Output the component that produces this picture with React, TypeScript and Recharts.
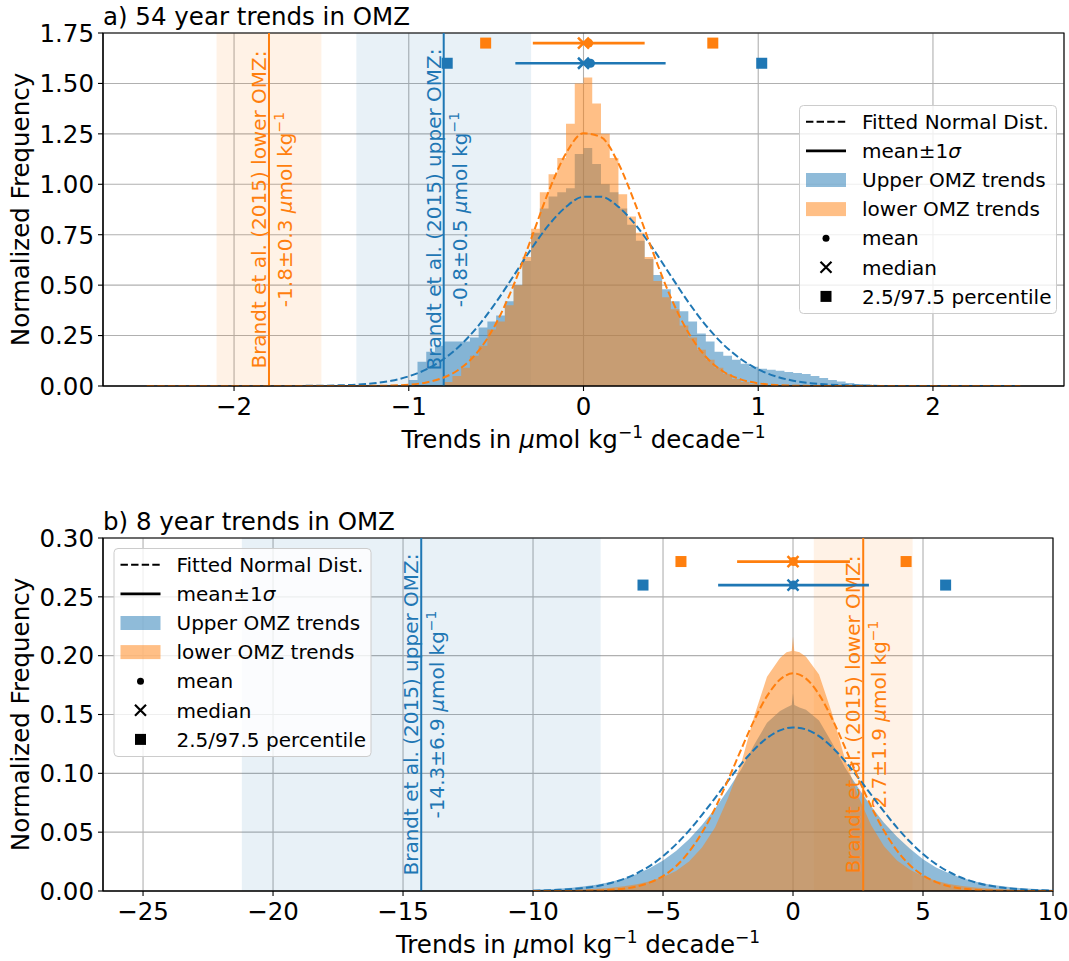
import React from 'react';
import {
  ComposedChart,
  XAxis,
  YAxis,
  CartesianGrid,
  Area,
  Line,
  Scatter,
  ReferenceLine,
  ReferenceArea,
} from 'recharts';

const BLUE = '#1f77b4';
const ORANGE = '#ff7f0e';
const GRID = '#b0b0b0';
const FONT = "'DejaVu Sans', 'Liberation Sans', sans-serif";
const BASE = 24.5;
const SMALL = 20;
const DASH = '7.4 3.2';

// ---------------- panel a: 54 year trends ----------------
const A_X_DOMAIN = [-2.75, 2.75];
const A_Y_DOMAIN = [0, 1.75];
const A_X_TICKS = [-2, -1, 0, 1, 2];
const A_Y_TICKS = [0, 0.25, 0.5, 0.75, 1, 1.25, 1.5, 1.75];

const A_BIN_WIDTH = 0.05;
const A_UPPER_START = -1.05;
const A_UPPER_HIST = [
  0.0, 0.03, 0.12, 0.17, 0.2, 0.22, 0.22, 0.22, 0.24, 0.29, 0.32, 0.35, 0.42, 0.5,
  0.62, 0.76, 0.88, 0.94, 0.96, 0.98, 1.15, 1.18, 1.1, 1.0, 0.96, 0.88, 0.8, 0.72,
  0.63, 0.55, 0.48, 0.42, 0.37, 0.32, 0.26, 0.22, 0.17, 0.15, 0.13, 0.11, 0.095,
  0.085, 0.08, 0.075, 0.07, 0.065, 0.06, 0.05, 0.04, 0.03, 0.022, 0.015, 0.01,
  0.007, 0.004, 0.002, 0.0,
];
const A_LOWER_START = -0.85;
const A_LOWER_HIST = [
  0.0, 0.02, 0.05, 0.09, 0.15, 0.2, 0.28, 0.32, 0.4, 0.5, 0.64, 0.78, 0.96, 1.05,
  1.13, 1.3, 1.5, 1.53, 1.4, 1.25, 1.13, 0.95, 0.84, 0.76, 0.64, 0.52, 0.44, 0.38,
  0.3, 0.24, 0.18, 0.13, 0.09, 0.06, 0.035, 0.02, 0.01, 0.005, 0.0,
];

const A_FIT_X = [
  -2.5, -1.7, -1.6, -1.5, -1.4, -1.3, -1.2, -1.1, -1.0, -0.9, -0.8, -0.7, -0.6, -0.5,
  -0.4, -0.3, -0.2, -0.1, 0.0, 0.1, 0.2, 0.3, 0.4, 0.5, 0.6, 0.7, 0.8, 0.9, 1.0, 1.1,
  1.2, 1.3, 1.4, 1.5, 1.6, 1.7, 1.8, 2.5,
];
const A_FIT_UPPER = [
  0, 0.0003, 0.0006, 0.0014, 0.0032, 0.0068, 0.0138, 0.026, 0.048, 0.082, 0.134,
  0.206, 0.301, 0.416, 0.546, 0.678, 0.797, 0.888, 0.938, 0.938, 0.888, 0.797, 0.678,
  0.546, 0.416, 0.301, 0.206, 0.134, 0.082, 0.048, 0.026, 0.0138, 0.0068, 0.0032,
  0.0014, 0.0006, 0.0003, 0,
];
const A_FIT_LOWER = [
  0, 0, 0, 0, 0.0001, 0.0002, 0.0007, 0.0023, 0.0067, 0.0176, 0.042, 0.09, 0.175,
  0.311, 0.5, 0.729, 0.963, 1.153, 1.253, 1.234, 1.103, 0.894, 0.657, 0.438, 0.265,
  0.145, 0.072, 0.0327, 0.0134, 0.0049, 0.0016, 0.0005, 0.0001, 0, 0, 0, 0, 0,
];

// [upper, lower]
const A_MEAN = [0.04, 0.03];
const A_SD = [0.43, 0.32];
const A_MEDIAN = [0.0, 0.0];
const A_PCT_UPPER = [-0.78, 1.02];
const A_PCT_LOWER = [-0.56, 0.74];
const A_ROW_Y = [1.6, 1.7];
const A_BRANDT_UPPER = [-0.8, 0.5];
const A_BRANDT_LOWER = [-1.8, 0.3];

// ---------------- panel b: 8 year trends ----------------
const B_X_DOMAIN = [-26.54, 10];
const B_Y_DOMAIN = [0, 0.3];
const B_X_TICKS = [-25, -20, -15, -10, -5, 0, 5, 10];
const B_Y_TICKS = [0, 0.05, 0.1, 0.15, 0.2, 0.25, 0.3];

const B_HIST_X = [
  -10, -9.5, -9, -8.5, -8, -7.5, -7, -6.5, -6, -5.5, -5, -4.5, -4, -3.5, -3, -2.5, -2,
  -1.5, -1, -0.5, -0.25, -0.05, 0, 0.05, 0.25, 0.5, 1, 1.5, 2, 2.5, 3, 3.5, 4, 4.5, 5,
  5.5, 6, 6.5, 7, 7.5, 8, 8.5, 9, 9.5, 10,
];
const B_UPPER_HIST = [
  0.001, 0.0014, 0.002, 0.0028, 0.004, 0.0056, 0.0078, 0.0106, 0.0145, 0.0195, 0.026,
  0.034, 0.044, 0.056, 0.07, 0.086, 0.103, 0.124, 0.143, 0.153, 0.156, 0.158, 0.168,
  0.158, 0.156, 0.154, 0.145, 0.126, 0.105, 0.088, 0.072, 0.058, 0.046, 0.036, 0.027,
  0.02, 0.015, 0.011, 0.008, 0.0058, 0.0042, 0.003, 0.0021, 0.0015, 0.001,
];
const B_LOWER_HIST = [
  0.0003, 0.0004, 0.0006, 0.0009, 0.0013, 0.0019, 0.0028, 0.004, 0.0057, 0.0082,
  0.012, 0.017, 0.025, 0.037, 0.054, 0.079, 0.108, 0.148, 0.182, 0.198, 0.203, 0.204,
  0.216, 0.204, 0.203, 0.199, 0.184, 0.151, 0.112, 0.081, 0.056, 0.038, 0.026, 0.018,
  0.0125, 0.0087, 0.006, 0.0042, 0.003, 0.0021, 0.0015, 0.001, 0.0007, 0.0005, 0.0003,
];

const B_FIT_X = [
  -10, -9, -8, -7, -6, -5.5, -5, -4.5, -4, -3.5, -3, -2.5, -2, -1.5, -1, -0.5, 0, 0.5,
  1, 1.5, 2, 2.5, 3, 3.5, 4, 4.5, 5, 5.5, 6, 7, 8, 9, 10,
];
const B_FIT_UPPER = [
  0.0003, 0.001, 0.0027, 0.0068, 0.0151, 0.0214, 0.0296, 0.0396, 0.0513, 0.0647,
  0.079, 0.0936, 0.1077, 0.1201, 0.13, 0.1365, 0.139, 0.1373, 0.1316, 0.1223, 0.1104,
  0.0966, 0.082, 0.0675, 0.0539, 0.0418, 0.0314, 0.0229, 0.0162, 0.0074, 0.003,
  0.0011, 0.0003,
];
const B_FIT_LOWER = [
  0, 0, 0.0002, 0.001, 0.0039, 0.0073, 0.0127, 0.0211, 0.0333, 0.0496, 0.0702, 0.0943,
  0.12, 0.1448, 0.1656, 0.1797, 0.185, 0.1805, 0.167, 0.1466, 0.122, 0.0963, 0.0721,
  0.0511, 0.0344, 0.0219, 0.0133, 0.0076, 0.0041, 0.001, 0.0002, 0, 0,
];

const B_MEAN = [0.02, 0.02];
const B_SD = [2.9, 2.17];
const B_MEDIAN = [0.0, 0.0];
const B_PCT_UPPER = [-5.77, 5.87];
const B_PCT_LOWER = [-4.31, 4.35];
const B_ROW_Y = [0.26, 0.28];
const B_BRANDT_UPPER = [-14.3, 6.9];
const B_BRANDT_LOWER = [2.7, 1.9];

// ---------------- layout ----------------
const PAGE_W = 1069;
const PAGE_H = 961;
const PLOT_LEFT = 103;
const A_FRAME = { top: 33, bottom: 386, right: 1064, chartTop: 0, chartH: 460 };
const B_FRAME = { top: 538, bottom: 891, right: 1053, chartTop: 490, chartH: 471 };

const LEGEND_A = { left: 799, top: 105 };
const LEGEND_B = { left: 113.5, top: 548 };

// ---------------- helpers ----------------
const binSteps = (start: number, width: number, values: number[]) =>
  values.map((y, i) => ({ x: Math.round((start + i * width) * 1000) / 1000, y }));
const pairUp = (xs: number[], ys: number[]) => xs.map((x, i) => ({ x, y: ys[i] }));
const fmtTick = (v: number, digits: number) => {
  const s = Math.abs(v).toFixed(digits);
  return v < 0 ? '\u2212' + s : s;
};

const squareShape = (color: string) => (p: any) =>
  <rect x={p.cx - 5.5} y={p.cy - 5.5} width={11} height={11} fill={color} />;
const crossShape = (color: string) => (p: any) => (
  <path
    d={`M${p.cx - 5.5},${p.cy - 5.5}L${p.cx + 5.5},${p.cy + 5.5}M${p.cx - 5.5},${p.cy + 5.5}L${p.cx + 5.5},${p.cy - 5.5}`}
    stroke={color}
    strokeWidth={2.5}
    fill="none"
  />
);
const dotShape = (color: string) => (p: any) => <circle cx={p.cx} cy={p.cy} r={4.5} fill={color} />;

function XTick(p: any) {
  return (
    <text x={p.x} y={p.y} dy={BASE * 0.73} textAnchor="middle" fontSize={BASE} fontFamily={FONT} fill="#000">
      {fmtTick(p.payload.value, 0)}
    </text>
  );
}

function makeYTick(digits: number) {
  return (p: any) => (
    <text x={p.x} y={p.y} dy={BASE * 0.36} textAnchor="end" fontSize={BASE} fontFamily={FONT} fill="#000">
      {fmtTick(p.payload.value, digits)}
    </text>
  );
}

function brandtNote(which: string, ref: number[], color: string) {
  return (props: any) => {
    const vb = props.viewBox || {};
    const x = vb.x;
    const cy = vb.y + vb.height / 2;
    if (x == null || isNaN(cy)) return null;
    const x1 = x - 3;
    const x2 = x + 23;
    return (
      <g fontFamily={FONT} fontSize={SMALL} fill={color}>
        <text x={x1} y={cy} transform={`rotate(-90 ${x1} ${cy})`} textAnchor="middle">
          {`Brandt et al. (2015) ${which} OMZ:`}
        </text>
        <text x={x2} y={cy} transform={`rotate(-90 ${x2} ${cy})`} textAnchor="middle">
          {`${ref[0].toFixed(1)}\u00b1${ref[1].toFixed(1)} `}
          <tspan fontStyle="italic">μ</tspan>
          {'mol kg'}
          <tspan dy={-8} fontSize={14}>{'\u22121'}</tspan>
        </text>
      </g>
    );
  };
}

type PanelProps = {
  frame: typeof A_FRAME;
  xDomain: number[];
  yDomain: number[];
  xTicks: number[];
  yTicks: number[];
  yDigits: number;
  upperHist: { x: number; y: number }[];
  lowerHist: { x: number; y: number }[];
  histCurve: 'stepAfter' | 'linear';
  fitUpper: { x: number; y: number }[];
  fitLower: { x: number; y: number }[];
  mean: number[];
  sd: number[];
  median: number[];
  pctUpper: number[];
  pctLower: number[];
  rowY: number[];
  brandtUpper: number[];
  brandtLower: number[];
};

function Panel(p: PanelProps) {
  const { frame } = p;
  const height = frame.chartH;
  const margin = {
    top: frame.top - frame.chartTop,
    right: PAGE_W - frame.right,
    bottom: 0,
    left: 0,
  };
  const xAxisHeight = frame.chartTop + frame.chartH - frame.bottom;
  const colors = [BLUE, ORANGE];
  const pcts = [p.pctUpper, p.pctLower];
  const brandts: [string, number[], string][] = [
    ['upper', p.brandtUpper, BLUE],
    ['lower', p.brandtLower, ORANGE],
  ];

  return (
    <ComposedChart width={PAGE_W} height={height} margin={margin}>
      <XAxis
        type="number"
        dataKey="x"
        domain={p.xDomain}
        ticks={p.xTicks}
        allowDataOverflow
        interval={0}
        height={xAxisHeight}
        tick={(t: any) => <XTick {...t} />}
        tickSize={5}
        tickMargin={6}
        tickLine={{ stroke: '#000', strokeWidth: 1.1 }}
        axisLine={{ stroke: '#000', strokeWidth: 1.1 }}
      />
      <YAxis
        type="number"
        dataKey="y"
        domain={p.yDomain}
        ticks={p.yTicks}
        allowDataOverflow
        interval={0}
        width={PLOT_LEFT}
        tick={makeYTick(p.yDigits)}
        tickSize={5}
        tickMargin={4}
        tickLine={{ stroke: '#000', strokeWidth: 1.1 }}
        axisLine={{ stroke: '#000', strokeWidth: 1.1 }}
      />

      {brandts.map(([which, ref, color]) => (
        <ReferenceArea
          key={`band-${which}`}
          x1={ref[0] - ref[1]}
          x2={ref[0] + ref[1]}
          fill={color}
          fillOpacity={0.1}
          stroke="none"
          ifOverflow="hidden"
        />
      ))}

      <Area
        data={p.upperHist}
        dataKey="y"
        type={p.histCurve}
        fill={BLUE}
        fillOpacity={0.5}
        stroke="none"
        isAnimationActive={false}
        activeDot={false}
      />
      <Area
        data={p.lowerHist}
        dataKey="y"
        type={p.histCurve}
        fill={ORANGE}
        fillOpacity={0.5}
        stroke="none"
        isAnimationActive={false}
        activeDot={false}
      />

      <CartesianGrid stroke={GRID} strokeWidth={1.1} />

      {brandts.map(([which, ref, color]) => (
        <ReferenceLine
          key={`line-${which}`}
          x={ref[0]}
          stroke={color}
          strokeWidth={2}
          label={brandtNote(which, ref, color)}
        />
      ))}

      <Line
        data={p.fitUpper}
        dataKey="y"
        type="monotone"
        stroke={BLUE}
        strokeWidth={2}
        strokeDasharray={DASH}
        dot={false}
        activeDot={false}
        isAnimationActive={false}
      />
      <Line
        data={p.fitLower}
        dataKey="y"
        type="monotone"
        stroke={ORANGE}
        strokeWidth={2}
        strokeDasharray={DASH}
        dot={false}
        activeDot={false}
        isAnimationActive={false}
      />

      {colors.map((c, i) => (
        <Line
          key={`err-${i}`}
          data={[
            { x: p.mean[i] - p.sd[i], y: p.rowY[i] },
            { x: p.mean[i] + p.sd[i], y: p.rowY[i] },
          ]}
          dataKey="y"
          type="linear"
          stroke={c}
          strokeWidth={2.7}
          dot={false}
          activeDot={false}
          isAnimationActive={false}
        />
      ))}
      {colors.map((c, i) => (
        <Scatter
          key={`median-${i}`}
          data={[{ x: p.median[i], y: p.rowY[i] }]}
          dataKey="y"
          shape={crossShape(c)}
          isAnimationActive={false}
        />
      ))}
      {colors.map((c, i) => (
        <Scatter
          key={`mean-${i}`}
          data={[{ x: p.mean[i], y: p.rowY[i] }]}
          dataKey="y"
          shape={dotShape(c)}
          isAnimationActive={false}
        />
      ))}
      {colors.map((c, i) => (
        <Scatter
          key={`pct-${i}`}
          data={pcts[i].map((x) => ({ x, y: p.rowY[i] }))}
          dataKey="y"
          shape={squareShape(c)}
          isAnimationActive={false}
        />
      ))}

      <ReferenceArea
        x1={p.xDomain[0]}
        x2={p.xDomain[1]}
        y1={p.yDomain[0]}
        y2={p.yDomain[1]}
        fill="none"
        stroke="#000"
        strokeWidth={1.1}
        ifOverflow="visible"
      />
    </ComposedChart>
  );
}

const LEGEND_ROWS = ['Fitted Normal Dist.', 'mean\u00b11', 'Upper OMZ trends', 'lower OMZ trends', 'mean', 'median', '2.5/97.5 percentile'];

function LegendBox({ left, top }: { left: number; top: number }) {
  const rowY = (i: number) => 16.8 + 29.1 * i;
  const hx0 = 7;
  const hx1 = 47;
  const mx = 27;
  return (
    <g transform={`translate(${left},${top})`} fontFamily={FONT} fontSize={SMALL}>
      <rect x={0.5} y={0.5} width={257} height={208} rx={4} fill="#fff" fillOpacity={0.8} stroke="#cccccc" strokeWidth={1} />
      <line x1={hx0} x2={hx1} y1={rowY(0)} y2={rowY(0)} stroke="#000" strokeWidth={2} strokeDasharray={DASH} />
      <line x1={hx0} x2={hx1} y1={rowY(1)} y2={rowY(1)} stroke="#000" strokeWidth={2.7} />
      <rect x={hx0} y={rowY(2) - 7} width={hx1 - hx0} height={14} fill={BLUE} fillOpacity={0.5} />
      <rect x={hx0} y={rowY(3) - 7} width={hx1 - hx0} height={14} fill={ORANGE} fillOpacity={0.5} />
      <circle cx={mx} cy={rowY(4)} r={3.5} fill="#000" />
      <path
        d={`M${mx - 5.5},${rowY(5) - 5.5}L${mx + 5.5},${rowY(5) + 5.5}M${mx - 5.5},${rowY(5) + 5.5}L${mx + 5.5},${rowY(5) - 5.5}`}
        stroke="#000"
        strokeWidth={2.2}
      />
      <rect x={mx - 5.5} y={rowY(6) - 5.5} width={11} height={11} fill="#000" />
      {LEGEND_ROWS.map((t, i) => (
        <text key={t} x={63} y={rowY(i) + 7.2} fill="#000">
          {t}
          {i === 1 ? <tspan fontStyle="italic">σ</tspan> : null}
        </text>
      ))}
    </g>
  );
}

function AxisTexts({ frame, title }: { frame: typeof A_FRAME; title: string }) {
  const cx = (PLOT_LEFT + frame.right) / 2;
  const cy = (frame.top + frame.bottom) / 2;
  const xl = frame.bottom + 62;
  return (
    <g fontFamily={FONT} fontSize={BASE} fill="#000">
      <text x={PLOT_LEFT} y={frame.top - 8}>{title}</text>
      <text x={cx} y={xl} textAnchor="middle">
        {'Trends in '}
        <tspan fontStyle="italic">μ</tspan>
        {'mol kg'}
        <tspan dy={-10} fontSize={17}>{'\u22121'}</tspan>
        <tspan dy={10}>{' decade'}</tspan>
        <tspan dy={-10} fontSize={17}>{'\u22121'}</tspan>
      </text>
      <text x={29} y={cy} transform={`rotate(-90 29 ${cy})`} textAnchor="middle">
        Normalized Frequency
      </text>
    </g>
  );
}

export default function App() {
  return (
    <div style={{ position: 'absolute', left: 0, top: 0, width: PAGE_W, height: PAGE_H, background: '#fff', overflow: 'hidden' }}>
      <div style={{ position: 'absolute', left: 0, top: A_FRAME.chartTop }}>
        <Panel
          frame={A_FRAME}
          xDomain={A_X_DOMAIN}
          yDomain={A_Y_DOMAIN}
          xTicks={A_X_TICKS}
          yTicks={A_Y_TICKS}
          yDigits={2}
          upperHist={binSteps(A_UPPER_START, A_BIN_WIDTH, A_UPPER_HIST)}
          lowerHist={binSteps(A_LOWER_START, A_BIN_WIDTH, A_LOWER_HIST)}
          histCurve="stepAfter"
          fitUpper={pairUp(A_FIT_X, A_FIT_UPPER)}
          fitLower={pairUp(A_FIT_X, A_FIT_LOWER)}
          mean={A_MEAN}
          sd={A_SD}
          median={A_MEDIAN}
          pctUpper={A_PCT_UPPER}
          pctLower={A_PCT_LOWER}
          rowY={A_ROW_Y}
          brandtUpper={A_BRANDT_UPPER}
          brandtLower={A_BRANDT_LOWER}
        />
      </div>
      <div style={{ position: 'absolute', left: 0, top: B_FRAME.chartTop }}>
        <Panel
          frame={B_FRAME}
          xDomain={B_X_DOMAIN}
          yDomain={B_Y_DOMAIN}
          xTicks={B_X_TICKS}
          yTicks={B_Y_TICKS}
          yDigits={2}
          upperHist={pairUp(B_HIST_X, B_UPPER_HIST)}
          lowerHist={pairUp(B_HIST_X, B_LOWER_HIST)}
          histCurve="linear"
          fitUpper={pairUp(B_FIT_X, B_FIT_UPPER)}
          fitLower={pairUp(B_FIT_X, B_FIT_LOWER)}
          mean={B_MEAN}
          sd={B_SD}
          median={B_MEDIAN}
          pctUpper={B_PCT_UPPER}
          pctLower={B_PCT_LOWER}
          rowY={B_ROW_Y}
          brandtUpper={B_BRANDT_UPPER}
          brandtLower={B_BRANDT_LOWER}
        />
      </div>
      <svg
        width={PAGE_W}
        height={PAGE_H}
        style={{ position: 'absolute', left: 0, top: 0, pointerEvents: 'none' }}
      >
        <AxisTexts frame={A_FRAME} title="a) 54 year trends in OMZ" />
        <AxisTexts frame={B_FRAME} title="b) 8 year trends in OMZ" />
        <LegendBox left={LEGEND_A.left} top={LEGEND_A.top} />
        <LegendBox left={LEGEND_B.left} top={LEGEND_B.top} />
      </svg>
    </div>
  );
}
